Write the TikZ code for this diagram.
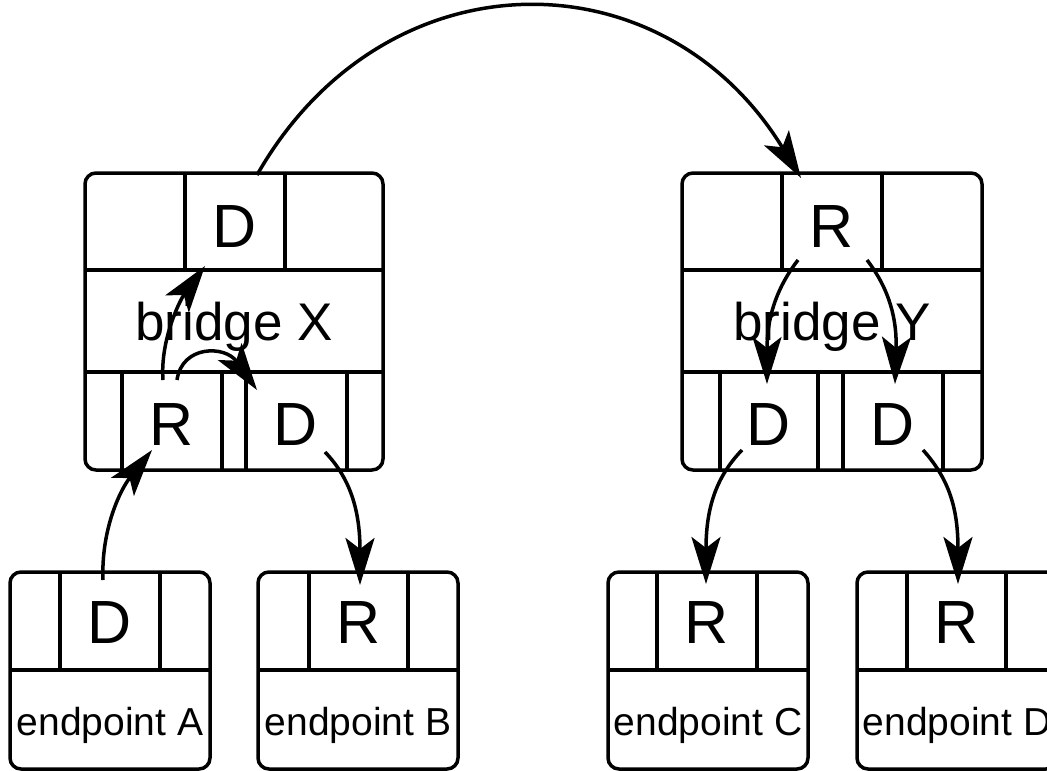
\documentclass[tikz,border=0pt]{standalone}
\usepackage{fontspec}
\setmainfont{Liberation Sans}
\usetikzlibrary{arrows.meta}
\begin{document}
\begin{tikzpicture}[x=1pt,y=-1pt,
  frame/.style={line width=3.5pt, rounded corners=11pt},
  grid/.style={line width=3.5pt},
  big/.style={font=\fontsize{61}{61}\selectfont, anchor=base, inner sep=0pt},
  title/.style={font=\fontsize{53}{53}\selectfont, anchor=base, inner sep=0pt},
  small/.style={font=\fontsize{39}{39}\selectfont, anchor=base, inner sep=0pt},
  link/.style={line width=3.5pt, -{Stealth[length=47pt,width=29pt,inset=11pt]}},
]
\useasboundingbox (0,0) rectangle (1047,771);
\clip (0,0) rectangle (1047,771);
\fill[white] (0,0) rectangle (1047,771);

% bridge X
\draw[frame] (85,173) rectangle (383,470);
\draw[grid] (85,270) -- (383,270) (85,372) -- (383,372)
  (185,173) -- (185,270) (285,173) -- (285,270)
  (122,372) -- (122,470) (222,372) -- (222,470)
  (246,372) -- (246,470) (347,372) -- (347,470);
\node[big] (xtop) at (235,247) {D};
\node[title] (xname) at (234,340) {bridge X};
\node[big] (xr) at (172,445) {R};
\node[big] (xd) at (296,445) {D};

% bridge Y
\draw[frame] (682,173) rectangle (982,470);
\draw[grid] (682,270) -- (982,270) (682,372) -- (982,372)
  (782,173) -- (782,270) (882,173) -- (882,270)
  (720,372) -- (720,470) (818,372) -- (818,470)
  (843,372) -- (843,470) (943,372) -- (943,470);
\node[big] (ytop) at (832,247) {R};
\node[title] (yname) at (832,340) {bridge Y};
\node[big] (yl) at (769,445) {D};
\node[big] (yr) at (893,445) {D};

% endpoints
\foreach \x/\a/\b/\lt/\nm/\id in {10/60/160/D/A/ea, 258/309/408/R/B/eb,
                                  608/657/757/R/C/ec, 857/907/1006/R/D/ed}{
  \draw[frame] (\x,572) rectangle ({\x+200},769);
  \draw[grid] (\x,670) -- ({\x+200},670) (\a,572) -- (\a,670) (\b,572) -- (\b,670);
  \node[big] (\id-port) at ({(\a+\b)/2},643) {\lt};
  \node[small] (\id-name) at ({\x+100},735) {endpoint \nm};
}

% connector ends
\coordinate (xtop-s) at (257,175);
\coordinate (ytop-e) at (801,178);
\coordinate (ea-s) at (103,580);
\coordinate (xr-e) at (152,450);
\coordinate (xr-s1) at (163,380);
\coordinate (xr-s2) at (177,380);
\coordinate (xtop-e) at (205,266);
\coordinate (xd-e) at (257,390);
\coordinate (xd-s) at (325,452);
\coordinate (eb-e) at (360,585);
\coordinate (ytop-s1) at (798,260);
\coordinate (ytop-s2) at (867,260);
\coordinate (yl-e) at (767,384);
\coordinate (yr-e) at (895,384);
\coordinate (yl-s) at (742,450);
\coordinate (yr-s) at (923,450);
\coordinate (ec-e) at (706,584);
\coordinate (ed-e) at (958,584);

% connectors
\draw[link] (xtop-s) .. controls (384,-48) and (663,-48) .. (ytop-e);
\draw[link] (ea-s) .. controls (101,530) and (120,490) .. (xr-e);
\draw[link] (xr-s1) .. controls (160,340) and (180,300) .. (xtop-e);
\draw[link] (xr-s2) .. controls (182,345) and (225,345) .. (xd-e);
\draw[link] (xd-s) .. controls (350,478) and (360,510) .. (eb-e);
\draw[link] (ytop-s1) .. controls (775,290) and (767,320) .. (yl-e);
\draw[link] (ytop-s2) .. controls (890,290) and (897,320) .. (yr-e);
\draw[link] (yl-s) .. controls (715,478) and (706,510) .. (ec-e);
\draw[link] (yr-s) .. controls (950,480) and (958,510) .. (ed-e);
\end{tikzpicture}
\end{document}
